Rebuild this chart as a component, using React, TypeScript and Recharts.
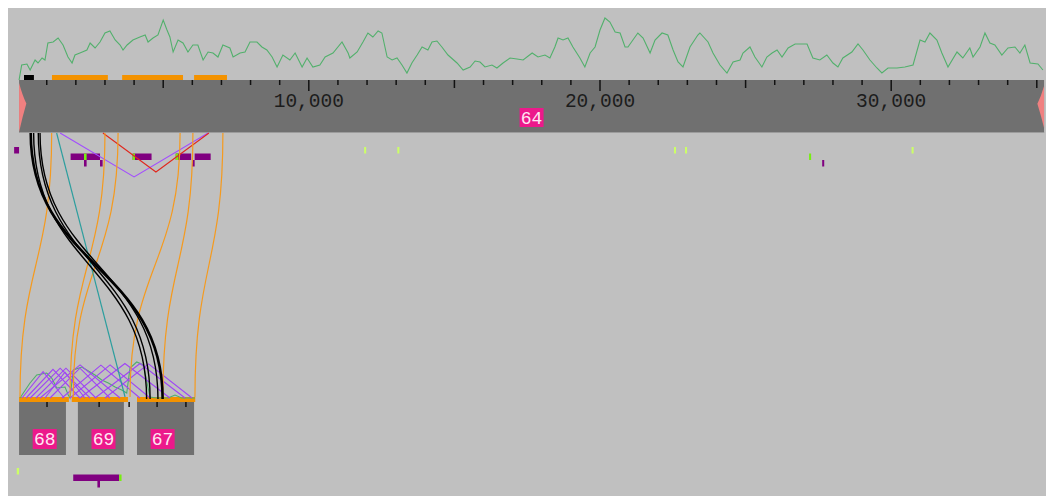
import React from 'react';
import {
  ComposedChart,
  Line,
  XAxis,
  YAxis,
  ReferenceArea,
  ReferenceLine,
  ReferenceDot,
} from 'recharts';

// ---------- data ----------

// Sequence 64: drawn extent in bp
const SEQ_NAME = '64';
const SEQ_RANGE: [number, number] = [50, 35250];

// Ruler ticks (bp)
const RULER_TICKS = Array.from({ length: 35 }, (_, i) => (i + 1) * 1000);
const RULER_LABELS = [10000, 20000, 30000];

// GC content along sequence 64: [position bp, GC %]
const gcTrack: [number, number][] = [
  [50, 20], [140, 27.5], [320, 28], [430, 25], [600, 30], [700, 28.5], [840, 31], [940, 30],
  [1040, 38.5], [1220, 39], [1390, 41], [1560, 37.5], [1730, 31.5], [1870, 28.5], [1970, 32.5],
  [2140, 33.5], [2380, 35], [2490, 38.5], [2660, 36], [2830, 39], [3000, 43.5], [3170, 44.5],
  [3350, 40], [3520, 37.5], [3620, 35], [3760, 37.5], [3960, 40], [4200, 41.5], [4380, 42.5],
  [4480, 39], [4650, 41], [4820, 42.5], [5000, 50], [5130, 45], [5230, 41.5], [5340, 34],
  [5510, 40], [5680, 38.5], [5850, 34], [6020, 37.5], [6190, 37.5], [6370, 30], [6540, 34],
  [6710, 33.5], [6880, 31.5], [7050, 37.5], [7290, 36], [7400, 31.5], [7640, 33.5], [7810, 34],
  [7980, 39], [8220, 39], [8390, 36.5], [8560, 35], [8740, 31.5], [8910, 26.5], [9110, 32.5],
  [9350, 30], [9530, 33.5], [9770, 26.5], [9940, 31], [10140, 26.5], [10380, 27.5], [10560, 31.5],
  [10830, 33.5], [11140, 39], [11350, 33.5], [11410, 31], [11660, 34], [11860, 39], [12030, 43.5],
  [12200, 41.5], [12380, 44.5], [12510, 43.5], [12690, 31.5], [12860, 30], [13030, 31], [13200, 27.5],
  [13370, 23.5], [13540, 28.5], [13720, 32.5], [13890, 36.5], [14090, 35], [14230, 39], [14400, 39.5],
  [14570, 36.5], [14780, 32.5], [15090, 28.5], [15300, 25], [15540, 26.5], [15710, 29.5], [15880, 29],
  [16050, 26.5], [16290, 27.5], [16460, 26], [16670, 28.5], [16910, 31], [17150, 30.5], [17360, 30],
  [17670, 33.5], [17870, 31.5], [18110, 32.5], [18280, 31], [18450, 36.5], [18560, 41], [18730, 40],
  [18900, 41], [19070, 36.5], [19310, 31], [19480, 26.5], [19660, 33.5], [19830, 36.5], [20000, 45],
  [20170, 51], [20340, 49], [20520, 44], [20690, 43.5], [20860, 36.5], [20960, 36.5], [21130, 40],
  [21300, 43.5], [21480, 41], [21720, 33.5], [21890, 40], [22130, 43.5], [22330, 42.5], [22510, 35],
  [22680, 29], [22850, 26.5], [23090, 36.5], [23360, 42.5], [23430, 43.5], [23710, 39], [23880, 33.5],
  [24120, 27.5], [24360, 23.5], [24570, 29], [24810, 30], [24910, 33.5], [25150, 36.5], [25320, 31.5],
  [25560, 26.5], [25730, 31.5], [25910, 33.5], [26080, 35], [26250, 31.5], [26460, 36], [26700, 38],
  [27110, 38], [27310, 31], [27550, 30], [27790, 32.5], [28000, 28.5], [28170, 26.5], [28340, 31],
  [28650, 34], [28860, 38], [29030, 35], [29270, 30], [29510, 26], [29680, 23.5], [29890, 26],
  [30200, 26], [30470, 26.5], [30750, 27.5], [30990, 40], [31160, 39], [31330, 43.5], [31570, 40],
  [31740, 33.5], [31950, 26.5], [32260, 34], [32460, 31], [32700, 36], [32810, 31.5], [33050, 36.5],
  [33220, 43.5], [33390, 38.5], [33560, 37.5], [33800, 32.5], [34010, 36], [34250, 36.5], [34420, 33.5],
  [34590, 37.5], [34770, 28.5], [35040, 28], [35210, 25],
];

// Genes on sequence 64 (start, end bp)
const genes: [number, number][] = [[1180, 3100], [3590, 5680], [6060, 7190]];
const gapBlocks: [number, number][] = [[220, 560]];

// Point features on sequence 64: start, end, row, kind
type Feature = { start: number; end: number; row: number; kind: 'motif' | 'site' | 'snp' };
const seqFeatures: Feature[] = [
  { start: -120, end: 50, row: 0, kind: 'motif' },
  { start: 1820, end: 2830, row: 1, kind: 'motif' },
  { start: 2280, end: 2370, row: 1, kind: 'site' },
  { start: 2280, end: 2370, row: 2, kind: 'motif' },
  { start: 2830, end: 2920, row: 2, kind: 'motif' },
  { start: 3950, end: 4600, row: 1, kind: 'motif' },
  { start: 3950, end: 4030, row: 1, kind: 'site' },
  { start: 5430, end: 5960, row: 1, kind: 'motif' },
  { start: 6080, end: 6630, row: 1, kind: 'motif' },
  { start: 5430, end: 5520, row: 1, kind: 'site' },
  { start: 5990, end: 6080, row: 2, kind: 'motif' },
  { start: 11900, end: 11970, row: 0, kind: 'snp' },
  { start: 13040, end: 13110, row: 0, kind: 'snp' },
  { start: 22540, end: 22610, row: 0, kind: 'snp' },
  { start: 22920, end: 22990, row: 0, kind: 'snp' },
  { start: 27180, end: 27250, row: 1, kind: 'site' },
  { start: 27630, end: 27700, row: 2, kind: 'motif' },
  { start: 30700, end: 30770, row: 0, kind: 'snp' },
];

// Contigs laid out in the lower panel (panel position bp)
const contigNames = ['68', '69', '67'];
const contigStarts = [50, 2070, 4100];
const contigEnds = [1660, 3650, 6060];
const contigTicks = [1010, 2800, 3830, 4790, 5780];
const contigGeneBars: [number, number][] = [[50, 1760], [1860, 3790], [4100, 6100]];

// GC content over the contig panel: [panel position bp, GC %]
const contigGc: [number, number][] = [
  [82, 20], [196, 22.5], [426, 27.5], [656, 31.5], [999, 32.5], [1171, 30], [1343, 25],
  [1628, 25.5], [1741, 21.5], [1799, 20], [1913, 34], [2201, 35.5], [2373, 34], [2658, 31.5],
  [2888, 29], [3115, 27.5], [3345, 25.5], [3575, 24], [3747, 22.5], [3860, 35], [4090, 38],
  [4317, 36.5], [4547, 20.5], [4777, 20], [5165, 20], [5405, 21.5], [5635, 20], [6092, 20],
];

// Features in the contig panel
const panelFeatures: Feature[] = [
  { start: -30, end: 50, row: 0, kind: 'snp' },
  { start: 1910, end: 3490, row: 1, kind: 'motif' },
  { start: 3490, end: 3570, row: 1, kind: 'site' },
  { start: 2740, end: 2830, row: 2, kind: 'motif' },
];

// Links from sequence 64 (bp) to the contig panel (panel position bp)
const geneLinks: [number, number][] = [
  [1170, 82], [3000, 1800], [3450, 1910], [5580, 3860], [6020, 4990], [7050, 6090],
];
const repeatLinks: { from: number; to: number; heavy: boolean }[] = [
  { from: 450, to: 4980, heavy: true },
  { from: 550, to: 4430, heavy: false },
  { from: 710, to: 4550, heavy: false },
  { from: 770, to: 4820, heavy: false },
];
const directLinks: [number, number][] = [[1340, 3690]];

// Self matches within sequence 64 (start, end bp)
const selfMatches: { a: number; b: number; color: string }[] = [
  { a: 1460, b: 6540, color: '#a24cff' },
  { a: 2930, b: 6570, color: '#e0281e' },
];

// Self matches within the contig panel (panel position bp)
const panelMatches: [number, number][] = [
  [150, 1600], [290, 2140], [430, 2490], [630, 2690], [940, 2310], [1110, 3170],
  [1520, 4200], [1800, 4550], [2140, 5230], [2660, 5750], [3000, 5990], [770, 3520],
];

// ---------- layout & style ----------

const W = 1038;
const H = 488;
const X_DOMAIN: [number, number] = [-330, 35316];

const GENE_Y: [number, number] = [67, 72];
const BAR_Y: [number, number] = [72, 125];
const FEATURE_TOP = 139;
const PANEL_FEATURE_TOP = 460;
const ROW_H = 6.5;
const LINK_TOP = 125;
const LINK_BOTTOM = 389;
const CONTIG_BAR_Y: [number, number] = [389, 394];
const CONTIG_Y: [number, number] = [394, 447];
const ARC_BASE = 390;
const LABEL_OFFSET = 880;

const PINK = '#ec198b';
const MONO = '"Liberation Mono", "DejaVu Sans Mono", monospace';
const featureColor: Record<Feature['kind'], string> = {
  motif: '#800080',
  site: '#77ee11',
  snp: '#ccff66',
};

// Curve with vertical tangents at both ends
const verticalBezier = (context: any) => {
  let pts: [number, number][] = [];
  return {
    areaStart() {},
    areaEnd() {},
    lineStart() {
      pts = [];
    },
    point(x: number, y: number) {
      pts.push([+x, +y]);
    },
    lineEnd() {
      if (!pts.length) return;
      context.moveTo(pts[0][0], pts[0][1]);
      for (let i = 1; i < pts.length; i++) {
        const [x0, y0] = pts[i - 1];
        const [x1, y1] = pts[i];
        const my = (y0 + y1) / 2;
        context.bezierCurveTo(x0, my, x1, my, x1, y1);
      }
    },
  };
};

const matchDepth = (a: number, b: number, k: number) =>
  k * Math.pow(Math.abs(b - a) / 1000, 0.36);

const capShape = (dir: 1 | -1) => (p: any) => {
  const { x, y, width: w, height: h } = p;
  const base = dir === 1 ? x : x + w;
  const tip = dir === 1 ? x + w : x;
  const c = base + (tip - base) * 0.45;
  const my = y + h * 0.42;
  const d = `M${base},${y} Q${c},${y + h * 0.25} ${tip},${my} Q${c},${y + h * 0.7} ${base},${y + h} Z`;
  return <path d={d} fill="#f08080" />;
};

const nameTag = (text: string, w: number, h: number) => (p: any) => (
  <g>
    <rect x={p.cx - w / 2} y={p.cy - h / 2} width={w} height={h} fill={PINK} />
    <text
      x={p.cx}
      y={p.cy + 6.3}
      textAnchor="middle"
      fontFamily={MONO}
      fontSize={18}
      fill="#ffe8f3"
    >
      {text}
    </text>
  </g>
);

const rulerLabel = (v: number) => (p: any) => (
  <text x={p.cx} y={p.cy} textAnchor="middle" fontFamily={MONO} fontSize={19.5} fill="#1c1c1c">
    {v.toLocaleString('en-US')}
  </text>
);

const featureAreas = (list: Feature[], top: number, prefix: string) =>
  list.map((f, i) => (
    <ReferenceArea
      key={`${prefix}${i}`}
      x1={f.start}
      x2={f.end}
      y1={top + f.row * ROW_H}
      y2={top + (f.row + 1) * ROW_H}
      yAxisId="track"
      fill={featureColor[f.kind]}
      fillOpacity={1}
      stroke="none"
    />
  ));

export default function App() {
  const gcData = gcTrack.map(([x, y]) => ({ x, y }));
  const contigGcData = contigGc.map(([x, y]) => ({ x, y }));

  return (
    <div style={{ position: 'fixed', left: 8, top: 8, width: W, height: H, background: '#c0c0c0' }}>
      <ComposedChart width={W} height={H} margin={{ top: 0, right: 0, bottom: 0, left: 0 }}>
        <XAxis type="number" dataKey="x" domain={X_DOMAIN} allowDataOverflow hide />
        <YAxis yAxisId="gc" type="number" domain={[-188, 56]} allowDataOverflow hide />
        <YAxis yAxisId="cgc" type="number" domain={[-29, 215]} allowDataOverflow hide />
        <YAxis yAxisId="track" type="number" domain={[0, H]} reversed allowDataOverflow hide />

        {/* sequence 64 backbone */}
        <ReferenceArea
          x1={SEQ_RANGE[0]}
          x2={SEQ_RANGE[1]}
          y1={BAR_Y[0]}
          y2={BAR_Y[1]}
          yAxisId="track"
          fill="#707070"
          fillOpacity={1}
          stroke="none"
        />
        <ReferenceArea
          x1={SEQ_RANGE[0]}
          x2={SEQ_RANGE[1]}
          y1={BAR_Y[1] - 1}
          y2={BAR_Y[1]}
          yAxisId="track"
          fill="#9c9c9c"
          fillOpacity={1}
          stroke="none"
        />
        <ReferenceArea
          x1={SEQ_RANGE[0]}
          x2={SEQ_RANGE[0] + 250}
          y1={BAR_Y[0] + 3}
          y2={BAR_Y[1] - 1}
          yAxisId="track"
          shape={capShape(1)}
        />
        <ReferenceArea
          x1={SEQ_RANGE[1] - 230}
          x2={SEQ_RANGE[1]}
          y1={BAR_Y[0] + 6}
          y2={BAR_Y[1] - 5}
          yAxisId="track"
          shape={capShape(-1)}
        />

        {/* ruler */}
        {RULER_TICKS.map((t) => {
          const len = t % 10000 === 0 ? 11 : t % 5000 === 0 ? 8 : 5;
          return (
            <ReferenceLine
              key={`t${t}`}
              yAxisId="track"
              segment={[
                { x: t, y: BAR_Y[0] },
                { x: t, y: BAR_Y[0] + len },
              ]}
              stroke="#111"
              strokeWidth={1.5}
            />
          );
        })}
        {RULER_LABELS.map((v) => (
          <ReferenceDot key={`l${v}`} x={v} y={99} yAxisId="track" shape={rulerLabel(v)} />
        ))}
        <ReferenceDot
          x={(SEQ_RANGE[0] + SEQ_RANGE[1]) / 2}
          y={109.5}
          yAxisId="track"
          shape={nameTag(SEQ_NAME, 24, 19)}
        />

        {/* genes */}
        {genes.map(([a, b], i) => (
          <ReferenceArea
            key={`g${i}`}
            x1={a}
            x2={b}
            y1={GENE_Y[0]}
            y2={GENE_Y[1]}
            yAxisId="track"
            fill="#f39200"
            fillOpacity={1}
            stroke="none"
          />
        ))}
        {gapBlocks.map(([a, b], i) => (
          <ReferenceArea
            key={`gb${i}`}
            x1={a}
            x2={b}
            y1={GENE_Y[0]}
            y2={GENE_Y[1]}
            yAxisId="track"
            fill="#000"
            fillOpacity={1}
            stroke="none"
          />
        ))}

        {/* contigs */}
        {contigNames.map((n, i) => (
          <ReferenceArea
            key={`c${n}`}
            x1={contigStarts[i]}
            x2={contigEnds[i]}
            y1={CONTIG_Y[0]}
            y2={CONTIG_Y[1]}
            yAxisId="track"
            fill="#707070"
            fillOpacity={1}
            stroke="none"
          />
        ))}
        {contigGeneBars.map(([a, b], i) => (
          <ReferenceArea
            key={`cb${i}`}
            x1={a}
            x2={b}
            y1={CONTIG_BAR_Y[0]}
            y2={CONTIG_BAR_Y[1]}
            yAxisId="track"
            fill="#f39200"
            fillOpacity={1}
            stroke="none"
          />
        ))}
        {contigTicks.map((t) => (
          <ReferenceLine
            key={`ct${t}`}
            yAxisId="track"
            segment={[
              { x: t, y: CONTIG_Y[0] },
              { x: t, y: CONTIG_Y[0] + 5 },
            ]}
            stroke="#111"
            strokeWidth={1.5}
          />
        ))}
        {contigNames.map((n, i) => (
          <ReferenceDot
            key={`cl${n}`}
            x={contigStarts[i] + LABEL_OFFSET}
            y={431}
            yAxisId="track"
            shape={nameTag(n, 24, 20)}
          />
        ))}

        {/* features */}
        {featureAreas(seqFeatures, FEATURE_TOP, 'f')}
        {featureAreas(panelFeatures, PANEL_FEATURE_TOP, 'pf')}

        {/* GC content */}
        <Line
          yAxisId="gc"
          data={gcData}
          dataKey="y"
          type="linear"
          stroke="#52b06c"
          strokeWidth={1.1}
          dot={false}
          activeDot={false}
          isAnimationActive={false}
        />
        <Line
          yAxisId="cgc"
          data={contigGcData}
          dataKey="y"
          type="linear"
          stroke="#4fae6b"
          strokeWidth={1.1}
          dot={false}
          activeDot={false}
          isAnimationActive={false}
        />

        {/* self matches */}
        {selfMatches.map((m, i) => (
          <Line
            key={`sm${i}`}
            yAxisId="track"
            data={[
              { x: m.a, y: LINK_TOP },
              { x: (m.a + m.b) / 2, y: LINK_TOP + matchDepth(m.a, m.b, 24.5) },
              { x: m.b, y: LINK_TOP },
            ]}
            dataKey="y"
            type="linear"
            stroke={m.color}
            strokeWidth={1.1}
            dot={false}
            activeDot={false}
            isAnimationActive={false}
          />
        ))}
        {panelMatches.map(([a, b], i) => (
          <Line
            key={`pm${i}`}
            yAxisId="track"
            data={[
              { x: a, y: ARC_BASE },
              { x: (a + b) / 2, y: ARC_BASE - matchDepth(a, b, 23) },
              { x: b, y: ARC_BASE },
            ]}
            dataKey="y"
            type="linear"
            stroke="#9f45f5"
            strokeWidth={1.1}
            dot={false}
            activeDot={false}
            isAnimationActive={false}
          />
        ))}

        {/* links to the contigs */}
        {geneLinks.map(([a, b], i) => (
          <Line
            key={`gl${i}`}
            yAxisId="track"
            data={[
              { x: a, y: LINK_TOP },
              { x: b, y: LINK_BOTTOM },
            ]}
            dataKey="y"
            type={verticalBezier as any}
            stroke="#f59a1e"
            strokeWidth={1.2}
            dot={false}
            activeDot={false}
            isAnimationActive={false}
          />
        ))}
        {directLinks.map(([a, b], i) => (
          <Line
            key={`dl${i}`}
            yAxisId="track"
            data={[
              { x: a, y: LINK_TOP },
              { x: b, y: LINK_BOTTOM },
            ]}
            dataKey="y"
            type="linear"
            stroke="#2d9e9e"
            strokeWidth={1.2}
            dot={false}
            activeDot={false}
            isAnimationActive={false}
          />
        ))}
        {repeatLinks.map((l, i) => (
          <Line
            key={`rl${i}`}
            yAxisId="track"
            data={[
              { x: l.from, y: LINK_TOP },
              { x: l.to, y: LINK_BOTTOM + 2 },
            ]}
            dataKey="y"
            type={verticalBezier as any}
            stroke="#000"
            strokeWidth={l.heavy ? 2.6 : 1.4}
            dot={false}
            activeDot={false}
            isAnimationActive={false}
          />
        ))}
      </ComposedChart>
    </div>
  );
}
